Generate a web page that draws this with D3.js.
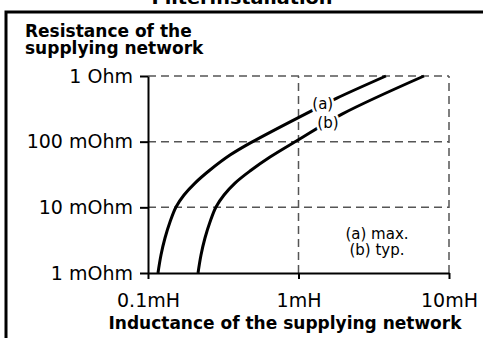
<!DOCTYPE html>
<html><head><meta charset="utf-8">
<script src="https://cdn.jsdelivr.net/npm/d3@7"></script>
<style>
html,body{margin:0;padding:0;background:#fff;}
svg{display:block;}
text{font-family:"DejaVu Sans",sans-serif;fill:#000;}
</style></head>
<body>
<script>
// Data (inductance in mH, resistance in mOhm)
const xTicks = [0.1, 1, 10];
const xTickLabels = ["0.1mH", "1mH", "10mH"];
const yTicks = [1, 10, 100, 1000];
const yTickLabels = ["1 mOhm", "10 mOhm", "100 mOhm", "1 Ohm"];
const seriesA_L = [0.1165, 0.1220, 0.1297, 0.1400, 0.1535, 0.1735, 0.2053, 0.2582, 0.3507, 0.476, 1.248, 1.80, 3.81];
const seriesA_R = [1, 1.88, 3.41, 5.97, 10.1, 15.4, 23.4, 37.0, 62.5, 95, 303, 461, 1000];
const seriesB_L = [0.215, 0.2250, 0.2391, 0.2582, 0.2830, 0.3199, 0.3786, 0.476, 0.6467, 0.993, 1.946, 6.82];
const seriesB_R = [1, 1.88, 3.41, 5.97, 10.1, 15.4, 23.4, 35.7, 58.3, 106, 263, 1000];
const curveLabels = ["(a)", "(b)"];
const curveLabelL = [1.45, 1.57];
const curveLabelR = [373, 192];
const legendLines = ["(a) max.", "(b) typ."];

const W = 483, H = 338;
const svg = d3.select("body").append("svg").attr("width", W).attr("height", H);

const x = d3.scaleLog().domain([0.1, 10]).range([148, 449]);
const y = d3.scaleLog().domain([1, 1000]).range([273, 76]);

// clipped top title
svg.append("text").attr("x", 242).attr("y", 4).attr("text-anchor", "middle")
  .attr("font-weight", "bold").attr("font-size", 17)
  .attr("textLength", 181).attr("lengthAdjust", "spacingAndGlyphs")
  .text("Filterinstallation");

// frame
svg.append("path").attr("d", "M6,338V12H483").attr("fill", "none")
  .attr("stroke", "#000").attr("stroke-width", 3);

// grid
const grid = svg.append("g").attr("stroke", "#555").attr("stroke-width", 1.5)
  .attr("stroke-dasharray", "8,5").attr("fill", "none");
grid.selectAll("line.h").data(yTicks.slice(1)).join("line").attr("class", "h")
  .attr("x1", x(0.1)).attr("x2", x(10)).attr("y1", d => y(d)).attr("y2", d => y(d));
grid.selectAll("line.v").data(xTicks.slice(1)).join("line").attr("class", "v")
  .attr("x1", d => x(d)).attr("x2", d => x(d)).attr("y1", y(1)).attr("y2", y(1000));

// axes
const yAxis = d3.axisLeft(y).tickValues(yTicks)
  .tickFormat((d, i) => yTickLabels[i]).tickSize(8).tickSizeOuter(0).tickPadding(7);
const gy = svg.append("g").attr("transform", `translate(${x(0.1)},0)`).call(yAxis);
const xAxis = d3.axisBottom(x).tickValues(xTicks)
  .tickFormat((d, i) => xTickLabels[i]).tickSize(6).tickSizeOuter(0).tickPadding(15);
const gx = svg.append("g").attr("transform", `translate(0,${y(1)})`).call(xAxis);
[gx, gy].forEach(g => {
  g.selectAll("path,line").attr("stroke", "#000").attr("stroke-width", 2);
  g.selectAll("text").attr("font-size", 19).attr("font-family", '"DejaVu Sans",sans-serif').attr("fill", "#000");
});

// curves
const line = d3.line().x(d => x(d[0])).y(d => y(d[1])).curve(d3.curveCatmullRom.alpha(0.5));
const A = seriesA_L.map((l, i) => [l, seriesA_R[i]]);
const B = seriesB_L.map((l, i) => [l, seriesB_R[i]]);
svg.append("g").selectAll("path").data([A, B]).join("path")
  .attr("d", line).attr("fill", "none").attr("stroke", "#000").attr("stroke-width", 3);

// curve labels with white halo
svg.selectAll("text.cl").data(curveLabels).join("text").attr("class", "cl")
  .attr("x", (d, i) => x(curveLabelL[i])).attr("y", (d, i) => y(curveLabelR[i]) + 5)
  .attr("text-anchor", "middle").attr("font-size", 15)
  .attr("stroke", "#fff").attr("stroke-width", 5).attr("paint-order", "stroke")
  .text(d => d);

// legend
svg.selectAll("text.lg").data(legendLines).join("text").attr("class", "lg")
  .attr("x", 377).attr("y", (d, i) => 239 + i * 16).attr("text-anchor", "middle")
  .attr("font-size", 15).text(d => d);

// axis titles
svg.append("text").attr("x", 25).attr("y", 37).attr("font-weight", "bold").attr("font-size", 17)
  .text("Resistance of the");
svg.append("text").attr("x", 25).attr("y", 54).attr("font-weight", "bold").attr("font-size", 17)
  .text("supplying network");
svg.append("text").attr("x", 285).attr("y", 329).attr("text-anchor", "middle")
  .attr("font-weight", "bold").attr("font-size", 17)
  .text("Inductance of the supplying network");
</script>
</body></html>
